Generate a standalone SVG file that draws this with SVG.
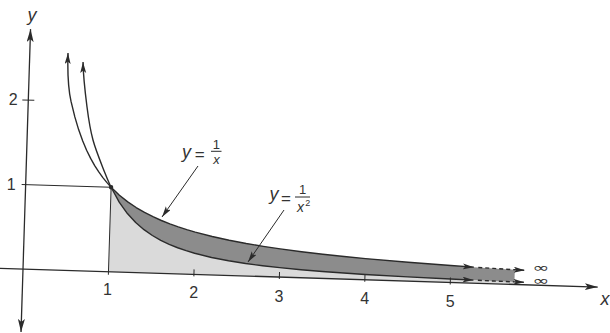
<svg xmlns="http://www.w3.org/2000/svg" width="610" height="333" viewBox="0 0 610 333">
  <style>
    .ax { fill: none; stroke: #2b2b2b; stroke-width: 1.3; }
    .thin { fill: none; stroke: #2b2b2b; stroke-width: 1; }
    .crv { fill: none; stroke: #2b2b2b; stroke-width: 1.4; stroke-linejoin: round; }
    .dash { fill: none; stroke: #2b2b2b; stroke-width: 1.4; stroke-dasharray: 4 3; }
    .num { font-family: "Liberation Sans", Arial, sans-serif; font-size: 16px; fill: #333; text-anchor: middle; }
    .var { font-family: "Liberation Sans", Arial, sans-serif; font-style: italic; fill: #333; text-anchor: middle; }
    .lab { font-family: "Liberation Sans", Arial, sans-serif; fill: #333; text-anchor: middle; }
    .inf { font-family: "DejaVu Sans", sans-serif; font-size: 13px; fill: #333; }
    .dark { fill: #8c8c8c; }
    .light { fill: #dadada; }
  </style>
  <defs>
    <marker id="ah" markerUnits="userSpaceOnUse" markerWidth="14" markerHeight="8" refX="13" refY="3.5" orient="auto-start-reverse" viewBox="0 0 14 8">
      <path d="M0,0 L13,3.5 L0,7 L3,3.5 Z" fill="#2b2b2b"/>
    </marker>
    <marker id="ahs" markerUnits="userSpaceOnUse" markerWidth="12" markerHeight="8" refX="11" refY="3" orient="auto-start-reverse" viewBox="0 0 12 8">
      <path d="M0,0 L11,3 L0,6 L2.5,3 Z" fill="#2b2b2b"/>
    </marker>
  </defs>
  <rect width="610" height="333" fill="#ffffff"/>

  <g id="plot" transform="translate(23,269) rotate(1.8)">
    <g id="regions">
      <path id="light-region" class="light" d="M85.5,-84.5 L94.05,-69.83 L102.6,-58.68 L111.15,-50 L119.7,-43.11 L128.25,-37.56 L136.8,-33.01 L145.35,-29.24 L153.9,-26.08 L162.45,-23.41 L171,-21.13 L188.1,-17.46 L205.2,-14.67 L222.3,-12.5 L239.4,-10.78 L256.5,-9.39 L277.9,-8 L299.25,-6.9 L320.6,-6.01 L342,-5.28 L384.75,-4.17 L427.5,-3.38 L450.6,-3.04 L470.25,-2.79 L491.6,-2.56 L491.6,0 L85.5,0 Z"/>
      <path id="dark-region" class="dark" d="M85.5,-84.5 L94.05,-76.82 L102.6,-70.42 L111.15,-65 L119.7,-60.36 L128.25,-56.33 L136.8,-52.81 L145.35,-49.71 L153.9,-46.94 L162.45,-44.47 L171,-42.25 L188.1,-38.41 L205.2,-35.21 L222.3,-32.5 L239.4,-30.18 L256.5,-28.17 L277.9,-26 L299.25,-24.14 L320.6,-22.53 L342,-21.13 L384.75,-18.78 L427.5,-16.9 L450.6,-16.03 L470.25,-15.36 L491.6,-14.7 L491.6,-2.56 L470.25,-2.79 L450.6,-3.04 L427.5,-3.38 L384.75,-4.17 L342,-5.28 L320.6,-6.01 L299.25,-6.9 L277.9,-8 L256.5,-9.39 L239.4,-10.78 L222.3,-12.5 L205.2,-14.67 L188.1,-17.46 L171,-21.13 L162.45,-23.41 L153.9,-26.08 L145.35,-29.24 L136.8,-33.01 L128.25,-37.56 L119.7,-43.11 L111.15,-50 L102.6,-58.68 L94.05,-69.83 Z"/>
    </g>

    <g id="axes">
      <path id="x-axis" class="ax" d="M-24,0 L575,0" marker-end="url(#ah)"/>
      <path id="y-axis" class="ax" d="M0,63 L0,-240" marker-start="url(#ah)" marker-end="url(#ah)"/>
      <path id="ticks" class="thin" d="M171,-5 L171,2 M256.5,-5 L256.5,2 M342,-5 L342,2 M427.5,-5 L427.5,2 M-6,-169 L6,-169"/>
      <path id="guides" class="thin" d="M-4,-84.5 L85.5,-84.5 M85.5,-84.5 L85.5,3"/>
    </g>

    <g id="curve-1-over-x">
      <path class="crv" d="M38.2,-217.3 C38.2,-202 38.85,-184.5 42.75,-169 L47.03,-153.64 L51.3,-140.83 L55.58,-130 L59.85,-120.71 L64.13,-112.67 L68.4,-105.63 L72.68,-99.41 L76.95,-93.89 L81.23,-88.95 L85.5,-84.5 L94.05,-76.82 L102.6,-70.42 L111.15,-65 L119.7,-60.36 L128.25,-56.33 L136.8,-52.81 L145.35,-49.71 L153.9,-46.94 L162.45,-44.47 L171,-42.25 L188.1,-38.41 L205.2,-35.21 L222.3,-32.5 L239.4,-30.18 L256.5,-28.17 L277.9,-26 L299.25,-24.14 L320.6,-22.53 L342,-21.13 L384.75,-18.78 L427.5,-16.9 L450.6,-16.03" marker-start="url(#ahs)" marker-end="url(#ahs)"/>
      <path class="dash" d="M455,-15.87 L470.25,-15.36 L491.6,-14.7 L501.5,-14.43" marker-end="url(#ahs)"/>
    </g>

    <g id="curve-1-over-x2">
      <path class="crv" d="M53.5,-208.8 C54.2,-193.8 56.8,-176.9 58.9,-163.9 C60.97,-150.95 62.57,-142 65.9,-131.1 C69.23,-120.2 75.63,-106.27 78.9,-98.5 C82.17,-90.73 83.17,-89.13 85.5,-84.5 L94.05,-69.83 L102.6,-58.68 L111.15,-50 L119.7,-43.11 L128.25,-37.56 L136.8,-33.01 L145.35,-29.24 L153.9,-26.08 L162.45,-23.41 L171,-21.13 L188.1,-17.46 L205.2,-14.67 L222.3,-12.5 L239.4,-10.78 L256.5,-9.39 L277.9,-8 L299.25,-6.9 L320.6,-6.01 L342,-5.28 L384.75,-4.17 L427.5,-3.38 L450.6,-3.04" marker-start="url(#ahs)" marker-end="url(#ahs)"/>
      <path class="dash" d="M455,-2.99 L470.25,-2.79 L491.6,-2.56 L501.5,-2.46" marker-end="url(#ahs)"/>
    </g>

    <circle id="point-1-1" cx="85.5" cy="-84.5" r="2.2" fill="#2b2b2b"/>
  </g>

  <g id="connectors">
    <line class="thin" x1="198" y1="166" x2="162" y2="217" marker-end="url(#ahs)"/>
    <line class="thin" x1="284" y1="210" x2="248" y2="262" marker-end="url(#ahs)"/>
  </g>

  <g id="axis-labels">
    <text class="var" x="32" y="21" font-size="18">y</text>
    <text class="var" x="605" y="305" font-size="18">x</text>
    <text class="num" x="13.3" y="105">2</text>
    <text class="num" x="11.3" y="190">1</text>
    <text class="num" x="107.5" y="295">1</text>
    <text class="num" x="193.7" y="298.3">2</text>
    <text class="num" x="279" y="301.7">3</text>
    <text class="num" x="364.7" y="304">4</text>
    <text class="num" x="450.3" y="306.7">5</text>
    <text class="inf" x="532.5" y="271.5" textLength="16.5" lengthAdjust="spacingAndGlyphs">∞</text>
    <text class="inf" x="532.5" y="285" textLength="16.5" lengthAdjust="spacingAndGlyphs">∞</text>
  </g>

  <g id="label-1-over-x">
    <text class="var" x="186.5" y="157.5" font-size="18">y</text>
    <text class="lab" x="199.7" y="159.5" font-size="17">=</text>
    <text class="lab" x="216.3" y="148.5" font-size="13">1</text>
    <line class="thin" x1="211" y1="151.3" x2="221.5" y2="151.3"/>
    <text class="var" x="216.5" y="164" font-size="13">x</text>
  </g>

  <g id="label-1-over-x2">
    <text class="var" x="274" y="200.3" font-size="18">y</text>
    <text class="lab" x="286" y="203.5" font-size="17">=</text>
    <text class="lab" x="302.5" y="193.5" font-size="13">1</text>
    <line class="thin" x1="295" y1="197" x2="310" y2="197"/>
    <text class="var" x="300.5" y="212" font-size="14">x</text>
    <text class="lab" x="307.7" y="206" font-size="9">2</text>
  </g>
</svg>
